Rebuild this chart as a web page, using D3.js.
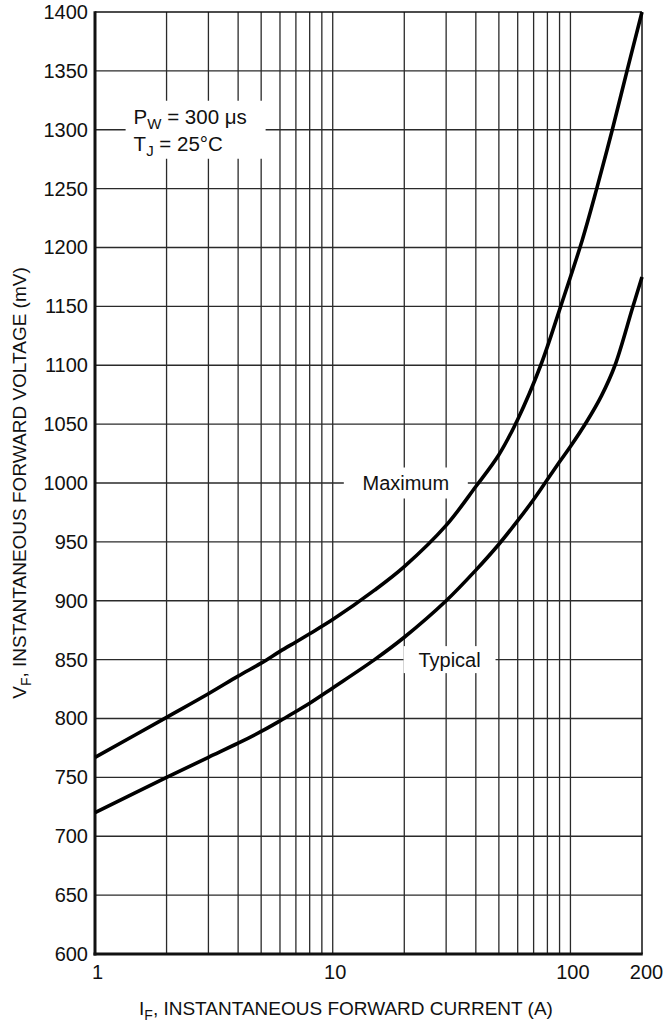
<!DOCTYPE html>
<html>
<head>
<meta charset="utf-8">
<script src="https://cdn.jsdelivr.net/npm/d3@7"></script>
<style>
  body { margin: 0; background: #fff; }
  text { font-family: "Liberation Sans", Arial, Helvetica, sans-serif; fill: #111; }
</style>
</head>
<body>
<div id="chart-area"></div>
<script>
// forward current (A) and forward voltage (mV)
var maxCurrent = [1, 2, 3, 4, 5, 6, 7, 8, 10, 15, 20, 30, 40, 50, 60, 75, 91, 112, 129, 150, 173, 200];
var maxVoltage = [767, 801, 821, 836, 847, 857, 865, 872, 884, 909, 929, 964, 997, 1024, 1054, 1100, 1150, 1206, 1250, 1300, 1350, 1400];

var typCurrent = [1, 2, 3, 4, 5, 6, 7, 8, 10, 15, 20, 30, 40, 50, 60, 70, 80, 90, 100, 117, 135, 154, 182, 200];
var typVoltage = [720, 750, 767, 779, 789, 798, 806, 813, 826, 850, 869, 900, 926, 948, 968, 986, 1003, 1018, 1031, 1052, 1074, 1100, 1148, 1175];

var yTickValues = d3.range(600, 1401, 50);
var xTickLabels = [1, 10, 100, 200];
var xGridValues = [2, 3, 4, 5, 6, 7, 8, 9, 10, 20, 30, 40, 50, 60, 70, 80, 90, 100];

var margin = { left: 95, right: 24, top: 12, bottom: 74 };
var width = 666 - margin.left - margin.right;
var height = 1028 - margin.top - margin.bottom;

var svg = d3.select("#chart-area")
  .append("svg")
    .attr("width", 666)
    .attr("height", 1028);

var g = svg.append("g")
  .attr("transform", "translate(" + margin.left + "," + margin.top + ")");

var x = d3.scaleLog().domain([1, 200]).range([0, width]);
var y = d3.scaleLinear().domain([600, 1400]).range([height, 0]);

// grid
g.append("g").attr("class", "grid-x")
  .selectAll("line")
  .data(xGridValues)
  .enter().append("line")
    .attr("x1", function(d){ return x(d); })
    .attr("x2", function(d){ return x(d); })
    .attr("y1", 0)
    .attr("y2", height)
    .attr("stroke", "#2a2a2a")
    .attr("stroke-width", 1.3);

g.append("g").attr("class", "grid-y")
  .selectAll("line")
  .data(yTickValues.slice(1, -1))
  .enter().append("line")
    .attr("x1", 0)
    .attr("x2", width)
    .attr("y1", function(d){ return y(d); })
    .attr("y2", function(d){ return y(d); })
    .attr("stroke", "#2a2a2a")
    .attr("stroke-width", 1.3);

// frame: thin top/right, heavy left/bottom
g.append("line").attr("x1", 0).attr("x2", width).attr("y1", 0).attr("y2", 0)
  .attr("stroke", "#111").attr("stroke-width", 1.5);
g.append("line").attr("x1", width).attr("x2", width).attr("y1", 0).attr("y2", height)
  .attr("stroke", "#111").attr("stroke-width", 1.5);

// axes (labels only, the heavy lines drawn below)
var yAxisCall = d3.axisLeft(y).tickValues(yTickValues).tickFormat(d3.format("d")).tickSize(0).tickPadding(7);
var yAxisGroup = g.append("g").attr("class", "y-axis").call(yAxisCall);
yAxisGroup.select(".domain").remove();
yAxisGroup.selectAll("text")
  .attr("font-size", "20px")
  .attr("font-family", null);

var xAxisCall = d3.axisBottom(x).tickValues(xTickLabels).tickFormat(d3.format("d")).tickSize(0).tickPadding(11);
var xAxisGroup = g.append("g").attr("class", "x-axis")
  .attr("transform", "translate(0," + height + ")")
  .call(xAxisCall);
xAxisGroup.select(".domain").remove();
xAxisGroup.selectAll("text")
  .attr("font-size", "20px")
  .attr("font-family", null)
  .attr("dx", function(d){ return d === 200 ? 4 : 2; });

g.append("line").attr("x1", 0).attr("x2", 0).attr("y1", -0.75).attr("y2", height + 1.5)
  .attr("stroke", "#111").attr("stroke-width", 3);
g.append("line").attr("x1", -1.5).attr("x2", width + 0.75).attr("y1", height).attr("y2", height)
  .attr("stroke", "#111").attr("stroke-width", 3);

// label boxes (white patches over the grid)
function boxLabel(cx, cy, w, h) {
  g.append("rect")
    .attr("x", cx - w / 2).attr("y", cy - h / 2)
    .attr("width", w).attr("height", h)
    .attr("fill", "#fff");
}

boxLabel(x(20.3), y(1000), 124, 31);
boxLabel(x(31), y(850), 92, 27);
boxLabel(x(2.65), y(1300), 140, 58);

// curves
var line = d3.line()
  .x(function(d){ return x(d[0]); })
  .y(function(d){ return y(d[1]); })
  .curve(d3.curveCatmullRom.alpha(0.5));

var maxData = d3.zip(maxCurrent, maxVoltage);
var typData = d3.zip(typCurrent, typVoltage);

g.selectAll("path.curve")
  .data([maxData, typData])
  .enter().append("path")
    .attr("class", "curve")
    .attr("d", line)
    .attr("fill", "none")
    .attr("stroke", "#000")
    .attr("stroke-width", 3.6)
    .attr("stroke-linejoin", "round");

// curve labels
g.append("text")
  .attr("x", x(20.3)).attr("y", y(1000))
  .attr("dy", "0.35em")
  .attr("text-anchor", "middle")
  .attr("font-size", "20px")
  .text("Maximum");

g.append("text")
  .attr("x", x(31)).attr("y", y(850))
  .attr("dy", "0.35em")
  .attr("text-anchor", "middle")
  .attr("font-size", "20px")
  .text("Typical");

// test conditions
var cond = g.append("text")
  .attr("x", x(2.65) - 62)
  .attr("y", y(1300) - 6)
  .attr("font-size", "20.5px");
cond.append("tspan").text("P");
cond.append("tspan").attr("font-size", "15px").attr("dy", 5).text("W");
cond.append("tspan").attr("dy", -5).text(" = 300 \u03bcs");

var cond2 = g.append("text")
  .attr("x", x(2.65) - 62)
  .attr("y", y(1300) + 21)
  .attr("font-size", "20.5px");
cond2.append("tspan").text("T");
cond2.append("tspan").attr("font-size", "15px").attr("dy", 5).text("J");
cond2.append("tspan").attr("dy", -5).text(" = 25\u00b0C");

// axis titles
var xLabel = svg.append("text")
  .attr("x", 346)
  .attr("y", 1015)
  .attr("text-anchor", "middle")
  .attr("font-size", "19px");
xLabel.append("tspan").text("I");
xLabel.append("tspan").attr("font-size", "14px").attr("dy", 5).text("F");
xLabel.append("tspan").attr("dy", -5).text(", INSTANTANEOUS FORWARD CURRENT (A)");

var yLabel = svg.append("text")
  .attr("transform", "translate(26," + (margin.top + height / 2) + ") rotate(-90)")
  .attr("text-anchor", "middle")
  .attr("font-size", "19px");
yLabel.append("tspan").text("V");
yLabel.append("tspan").attr("font-size", "14px").attr("dy", 5).text("F");
yLabel.append("tspan").attr("dy", -5).text(", INSTANTANEOUS FORWARD VOLTAGE (mV)");
</script>
</body>
</html>
